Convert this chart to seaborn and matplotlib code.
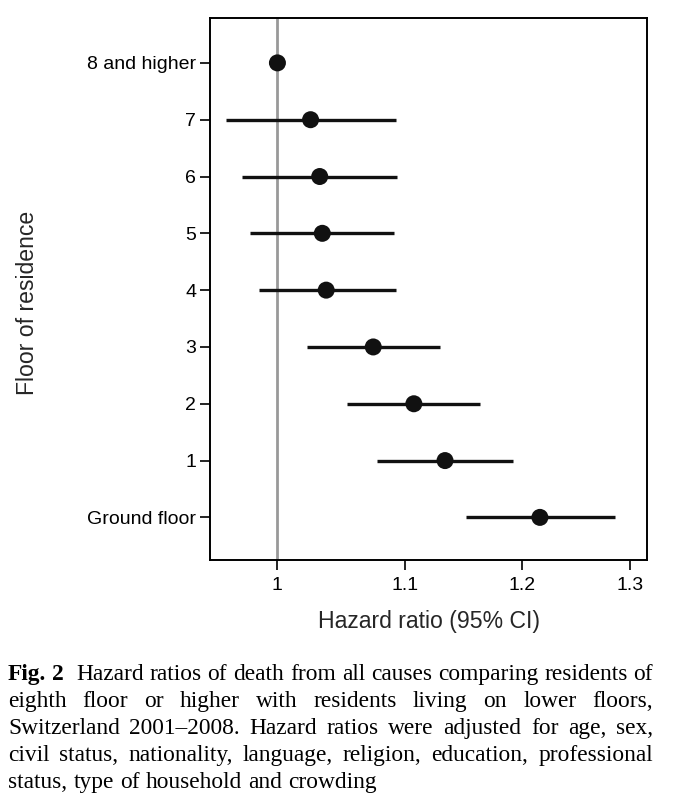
import numpy as np
import pandas as pd
import seaborn as sns
import matplotlib.pyplot as plt

# Hazard ratios (log x axis)
floors = ['8 and higher', '7', '6', '5', '4', '3', '2', '1', 'Ground floor']
hr = [1.0, 1.025, 1.032, 1.034, 1.037, 1.074, 1.107, 1.133, 1.216]
ci_low = [1.0, 0.9625, 0.974, 0.980, 0.986, 1.022, 1.053, 1.077, 1.151]
ci_high = [1.0, 1.092, 1.093, 1.091, 1.092, 1.129, 1.163, 1.192, 1.286]
xticks = [1, 1.1, 1.2, 1.3]
xticklabels = ['1', '1.1', '1.2', '1.3']

caption_lines = [
    "Fig. 2  Hazard ratios of death from all causes comparing residents of",
    "eighth floor or higher with residents living on lower floors,",
    "Switzerland 2001\u20132008. Hazard ratios were adjusted for age, sex,",
    "civil status, nationality, language, religion, education, professional",
    "status, type of household and crowding",
]

df = pd.DataFrame({'floor': floors, 'hr': hr, 'lo': ci_low, 'hi': ci_high})
df['pos'] = np.arange(len(floors))[::-1]

sns.set_style('ticks')
plt.rcParams['font.family'] = ['Liberation Sans', 'DejaVu Sans']

fig = plt.figure(figsize=(6.78, 8), dpi=100)
ax = fig.add_axes([210 / 678, 240 / 800, 437 / 678, 542 / 800])

ax.axvline(1, color='#999999', lw=2, zorder=1)
ax.hlines(df['pos'], df['lo'], df['hi'], color='#111111', lw=2.4, zorder=2)
sns.scatterplot(data=df, x='hr', y='pos', ax=ax, color='#111111', s=150,
                edgecolor='none', zorder=3, legend=False)

ax.set_xscale('log')
ax.set_xlim(0.951, 1.317)
ax.set_ylim(-0.75, 8.79)
ax.set_xticks(xticks)
ax.set_xticklabels(xticklabels)
ax.xaxis.set_minor_locator(plt.NullLocator())
ax.set_yticks(df['pos'])
ax.set_yticklabels(df['floor'])
ax.tick_params(axis='both', direction='out', length=7, width=1.2,
               labelsize=14, color='black', labelcolor='black', pad=3)
ax.tick_params(axis='x', pad=5)
for s in ax.spines.values():
    s.set_color('black')
    s.set_linewidth(1.4)
ax.set_xlabel('Hazard ratio (95% CI)', fontsize=16.6, labelpad=12)
ax.set_ylabel('')
fig.text(28 / 678, 1 - 303 / 800, 'Floor of residence', rotation=90,
         ha='center', va='center', fontsize=16.6)

# justified caption in a serif face
fig.canvas.draw()
renderer = fig.canvas.get_renderer()
W, H = 678, 800
left_px, right_px = 8, 653
baselines = [680, 707, 734, 761, 788]
cap_font = dict(family='Liberation Serif', fontsize=16.8, color='black')

for i, line in enumerate(caption_lines):
    words = line.split()
    weights = ['bold' if (i == 0 and j < 2) else 'normal' for j in range(len(words))]
    texts = []
    for w, wt in zip(words, weights):
        t = fig.text(0, 1 - baselines[i] / H, w, va='baseline', ha='left',
                     fontweight=wt, **cap_font)
        texts.append(t)
    widths = [t.get_window_extent(renderer).width for t in texts]
    extra = 6 if i == 0 else 0
    if i < len(caption_lines) - 1:
        gap = (right_px - left_px - sum(widths) - extra) / (len(words) - 1)
    else:
        gap = 6.2
    x = left_px
    for j, (t, w) in enumerate(zip(texts, widths)):
        t.set_x(x / W)
        x += w + gap
        if i == 0 and j == 1:
            x += extra

fig.savefig('out.png', dpi=100)
